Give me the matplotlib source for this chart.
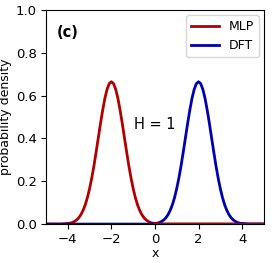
import matplotlib
matplotlib.use('Agg')
import matplotlib.pyplot as plt
import numpy as np

# x grid, step 0.1 from -5 to 5
x = np.round(np.arange(-50, 51) / 10.0, 1)

# values
mlp = [0.0, 0.0, 0.0, 0.0, 0.0, 0.0, 0.0, 0.0,
       0.001, 0.002, 0.003, 0.004, 0.007, 0.012, 0.019, 0.029, 0.044, 0.064, 0.090,
       0.124, 0.166, 0.216, 0.273, 0.337, 0.403, 0.470, 0.532, 0.587, 0.629, 0.656,
       0.665,
       0.656, 0.629, 0.587, 0.532, 0.470, 0.403, 0.337, 0.273, 0.216, 0.166, 0.124,
       0.090, 0.064, 0.044, 0.029, 0.019, 0.012, 0.007, 0.004, 0.003, 0.002, 0.001,
       0.0, 0.0, 0.0, 0.0, 0.0, 0.0, 0.0, 0.0, 0.0, 0.0, 0.0, 0.0, 0.0, 0.0, 0.0, 0.0,
       0.0, 0.0, 0.0, 0.0, 0.0, 0.0, 0.0, 0.0, 0.0, 0.0, 0.0, 0.0, 0.0, 0.0, 0.0, 0.0,
       0.0, 0.0, 0.0, 0.0, 0.0, 0.0, 0.0, 0.0, 0.0, 0.0, 0.0, 0.0, 0.0, 0.0, 0.0, 0.0]
dft = [0.0, 0.0, 0.0, 0.0, 0.0, 0.0, 0.0, 0.0, 0.0, 0.0, 0.0, 0.0, 0.0, 0.0, 0.0, 0.0,
       0.0, 0.0, 0.0, 0.0, 0.0, 0.0, 0.0, 0.0, 0.0, 0.0, 0.0, 0.0, 0.0, 0.0, 0.0, 0.0,
       0.0, 0.0, 0.0, 0.0, 0.0, 0.0, 0.0, 0.0, 0.0, 0.0, 0.0, 0.0, 0.0, 0.0, 0.0, 0.0,
       0.001, 0.002, 0.003, 0.004, 0.007, 0.012, 0.019, 0.029, 0.044, 0.064, 0.090,
       0.124, 0.166, 0.216, 0.273, 0.337, 0.403, 0.470, 0.532, 0.587, 0.629, 0.656,
       0.665,
       0.656, 0.629, 0.587, 0.532, 0.470, 0.403, 0.337, 0.273, 0.216, 0.166, 0.124,
       0.090, 0.064, 0.044, 0.029, 0.019, 0.012, 0.007, 0.004, 0.003, 0.002, 0.001,
       0.0, 0.0, 0.0, 0.0, 0.0, 0.0, 0.0, 0.0]

mlp = np.array(mlp)
dft = np.array(dft)

fig = plt.figure(figsize=(2.74, 2.63), dpi=100)
ax = fig.add_axes([0.168, 0.148, 0.795, 0.814])

ax.plot(x, mlp, color='#b00000', lw=2, label='MLP')
ax.plot(x, dft, color='#0000b0', lw=2, label='DFT')
# red tail on the right sits on top in the original
right = x >= 0
ax.plot(x[right], mlp[right], color='#b00000', lw=2)

ax.set_xlim(-5, 5)
ax.set_ylim(0, 1)
ax.set_xticks([-4, -2, 0, 2, 4])
ax.set_yticks([0.0, 0.2, 0.4, 0.6, 0.8, 1.0])
ax.tick_params(labelsize=9.5, pad=3)
ax.set_xlabel('x', fontsize=9, labelpad=1)
ax.set_ylabel('probability density', fontsize=9, labelpad=3)

ax.text(0.05, 0.93, '(c)', transform=ax.transAxes, fontsize=10.5,
        fontweight='bold', va='top', ha='left')
ax.text(0, 0.463, 'H = 1', fontsize=10.5, ha='center', va='center')

ax.legend(loc='upper right', fontsize=9, handlelength=2.2,
          borderaxespad=0.4)

fig.savefig('out.png', dpi=100)
